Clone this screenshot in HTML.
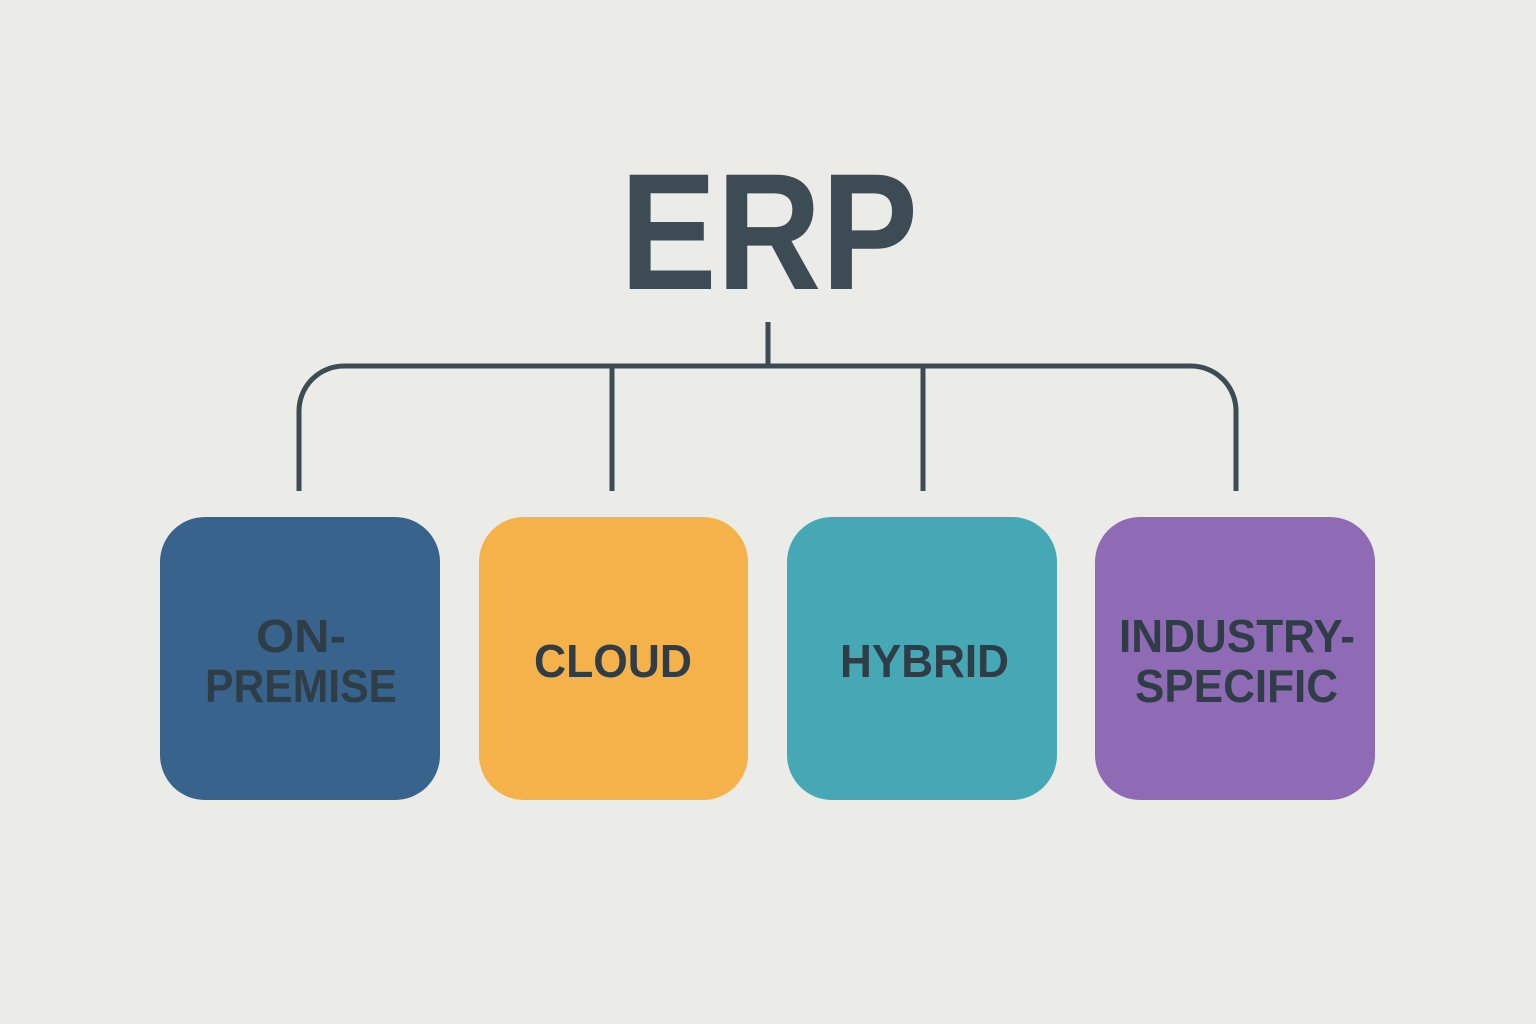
<!DOCTYPE html>
<html><head><style>html,body{margin:0;padding:0;background:#ebebe7;}svg{display:block}</style></head>
<body>
<svg width="1536" height="1024" viewBox="0 0 1536 1024" xmlns="http://www.w3.org/2000/svg">
<rect width="1536" height="1024" fill="#ebebe7"/>
<text x="620" y="289" font-family="Liberation Sans, sans-serif" font-weight="bold" font-size="166" fill="#3d4b55" textLength="298" lengthAdjust="spacingAndGlyphs">ERP</text>
<g stroke="#3d4b55" stroke-width="5" fill="none">
<line x1="768" y1="322" x2="768" y2="366"/>
<path d="M299 491 V411 A45 45 0 0 1 344 366 H1191 A45 45 0 0 1 1236 411 V491"/>
<line x1="612" y1="366" x2="612" y2="491"/>
<line x1="923" y1="366" x2="923" y2="491"/>
</g>
<rect x="160" y="517" width="280" height="283" rx="45" fill="#37638c"/>
<rect x="479" y="517" width="269" height="283" rx="45" fill="#f6b24a"/>
<rect x="787" y="517" width="270" height="283" rx="45" fill="#45a8b4"/>
<rect x="1095" y="517" width="280" height="283" rx="45" fill="#8f6bb5"/>
<g font-family="Liberation Sans, sans-serif" font-weight="bold" font-size="46" fill="#2f3d47">
<text x="256" y="652" textLength="90" lengthAdjust="spacingAndGlyphs">ON-</text>
<text x="205" y="702" textLength="192" lengthAdjust="spacingAndGlyphs">PREMISE</text>
<text x="534" y="677" textLength="158" lengthAdjust="spacingAndGlyphs">CLOUD</text>
<text x="840" y="677" textLength="169" lengthAdjust="spacingAndGlyphs">HYBRID</text>
<text x="1119" y="652" textLength="236" lengthAdjust="spacingAndGlyphs">INDUSTRY-</text>
<text x="1135" y="702" textLength="203" lengthAdjust="spacingAndGlyphs">SPECIFIC</text>
</g>
</svg>
</body></html>
